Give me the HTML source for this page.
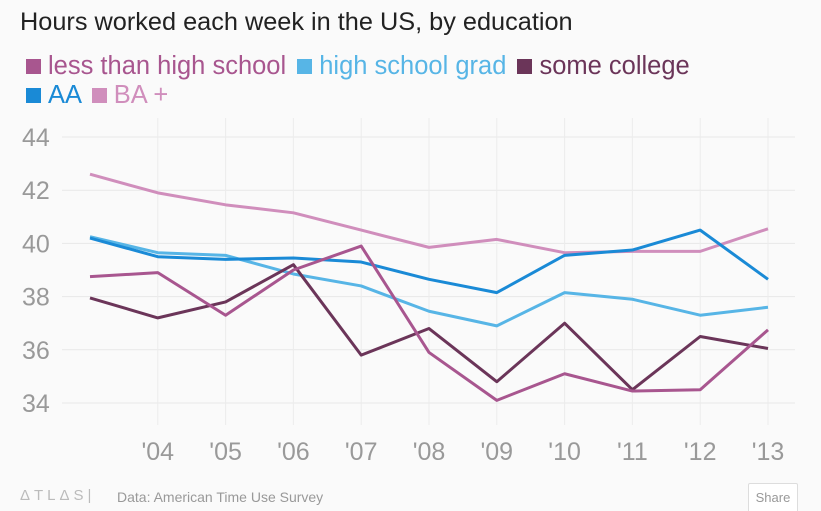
<!DOCTYPE html>
<html><head><meta charset="utf-8"><style>
body{margin:0;background:#fafafa;font-family:"Liberation Sans",sans-serif;}
#wrap{position:relative;width:821px;height:511px;overflow:hidden;background:#fafafa}
.t{position:absolute;white-space:nowrap}
.sw{display:inline-block;width:15px;height:15px;margin-right:7px;vertical-align:0px}
</style></head><body>
<div id="wrap">
<div class="t" style="left:20px;top:8px;font-size:25.3px;color:#222">Hours worked each week in the US, by education</div>
<div class="t" style="left:26px;top:52px;font-size:25.5px;line-height:29px">
<span style="color:#a8568f"><span class="sw" style="background:#a8568f"></span>less than high school</span>
<span style="color:#57b5e6;margin-left:4px"><span class="sw" style="background:#57b5e6"></span>high school grad</span>
<span style="color:#6b3559;margin-left:4px"><span class="sw" style="background:#6b3559"></span>some college</span><br>
<span style="color:#1a8ad6"><span class="sw" style="background:#1a8ad6"></span>AA</span>
<span style="color:#d08ebc;margin-left:4px"><span class="sw" style="background:#d08ebc"></span>BA +</span>
</div>
<svg id="svg" width="821" height="511" style="position:absolute;left:0;top:0"></svg>
<div class="t" style="left:20px;top:487px;font-size:15px;color:#bbb;letter-spacing:4px">ΔTLΔS|</div>
<div class="t" style="left:117px;top:489px;font-size:14px;color:#999">Data: American Time Use Survey</div>
<div class="t" style="left:748px;top:483px;width:48px;height:28px;border:1px solid #ddd;border-radius:2px;font-size:13px;color:#999;text-align:center;line-height:28px;background:#fff">Share</div>
</div>
<script>
const years=[2003,2004,2005,2006,2007,2008,2009,2010,2011,2012,2013];
const yTicks=[34,36,38,40,42,44];
const xLabels=["","'04","'05","'06","'07","'08","'09","'10","'11","'12","'13"];
const lessHS=[38.75,38.9,37.3,39.0,39.9,35.9,34.1,35.1,34.45,34.5,36.75];
const hsGrad=[40.25,39.65,39.55,38.85,38.4,37.45,36.9,38.15,37.9,37.3,37.6];
const someCollege=[37.95,37.2,37.8,39.2,35.8,36.8,34.8,37.0,34.5,36.5,36.05];
const aa=[40.2,39.5,39.4,39.45,39.3,38.65,38.15,39.55,39.75,40.5,38.65];
const baPlus=[42.6,41.9,41.45,41.15,40.5,39.85,40.15,39.65,39.7,39.7,40.55];
const svg=document.getElementById('svg');
const NS='http://www.w3.org/2000/svg';
function x(yr){return 90+(yr-2003)*67.8;}
function y(v){return 137+(44-v)*26.6;}
function mk(tag,attrs){const e=document.createElementNS(NS,tag);for(const k in attrs)e.setAttribute(k,attrs[k]);svg.appendChild(e);return e;}
yTicks.forEach(v=>{
 const l=mk('line',{x1:62,x2:795,y1:y(v),y2:y(v),stroke:'#e8e8e8','stroke-width':1});
 
 
 const t=mk('text',{x:22,y:y(v)+9,'font-size':25,fill:'#999','font-family':'Liberation Sans, sans-serif'});
 t.textContent=v;
 
 
});
years.forEach((yr,i)=>{
 if(i===0)return;
 const l=mk('line',{x1:x(yr),x2:x(yr),y1:118,y2:425,stroke:'#ececec','stroke-width':1});
 
 
 const t=mk('text',{x:x(yr),y:460,'font-size':25,fill:'#999','text-anchor':'middle','font-family':'Liberation Sans, sans-serif'});
 t.textContent=xLabels[i];
 
 
});
const series=[[baPlus,'#d08ebc','line-ba-plus'],[hsGrad,'#57b5e6','line-high-school-grad'],[aa,'#1a8ad6','line-aa'],[someCollege,'#6b3559','line-some-college'],[lessHS,'#a8568f','line-less-than-high-school']];
series.forEach(([d,c,n])=>{
 const p=mk('polyline',{points:d.map((v,i)=>x(years[i])+','+y(v)).join(' '),fill:'none',stroke:c,'stroke-width':3,'stroke-linejoin':'round'});
 
 
});
</script>
</body></html>
